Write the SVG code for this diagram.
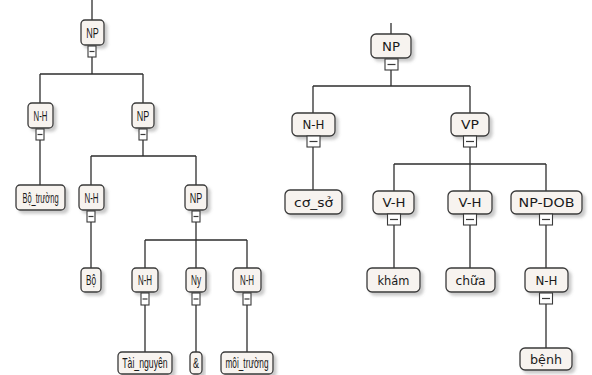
<svg xmlns="http://www.w3.org/2000/svg" width="592" height="375" viewBox="0 0 592 375">
  <defs>
    <filter id="shadow" x="-30%" y="-30%" width="160%" height="170%">
      <feDropShadow dx="3" dy="3" stdDeviation="1.4" flood-color="#8a8a8a" flood-opacity="0.45"/>
    </filter>
    <style>
      .box { fill: #f7f3ef; stroke: #3a3a3a; stroke-width: 1.3; filter: url(#shadow); }
      .tog { fill: #ffffff; stroke: #3a3a3a; stroke-width: 1.1; }
      .minus { stroke: #3a3a3a; stroke-width: 1.2; }
      .edge { fill: none; stroke: #2e2e2e; stroke-width: 1.3; }
      .narrow { font-family: "Liberation Sans", Arial, sans-serif; font-size: 15px; fill: #1a1a1a; text-anchor: middle; }
      .wide { font-family: "DejaVu Sans", Verdana, sans-serif; font-size: 12.5px; fill: #1a1a1a; text-anchor: middle; }
    </style>
  </defs>
  <rect width="592" height="375" fill="#ffffff"/>

  <!-- connectors -->
  <g id="connectors" class="edge">
    <!-- left tree -->
    <path d="M92 0V20"/>
    <path d="M92 57V74M40 74H143M40 74V103M143 74V103"/>
    <path d="M40 140V185"/>
    <path d="M143 140V156M91 156H196M91 156V185M196 156V185"/>
    <path d="M91 222V268"/>
    <path d="M196 222V240M145 240H247M145 240V268M196 240V268M247 240V268"/>
    <path d="M145 305V352M196 305V352M247 305V352"/>
    <!-- right tree -->
    <path d="M391 23V34"/>
    <path d="M391 70V86M313 86H470M313 86V113M470 86V113"/>
    <path d="M313 147V190"/>
    <path d="M470 147V164M394 164H546M394 164V191M470 164V191M546 164V191"/>
    <path d="M394 225V268M470 225V268M546 225V268"/>
    <path d="M546 304V348"/>
  </g>

  <!-- left tree nodes (condensed labels) -->
  <g id="l-np0">
    <rect class="box" x="81" y="20" width="23" height="25" rx="4"/>
    <text class="narrow" transform="translate(92.5 38) scale(0.6 1)">NP</text>
    <rect class="tog" x="88" y="46" width="8" height="11"/><line class="minus" x1="89.5" y1="51.5" x2="94.5" y2="51.5"/>
  </g>
  <g id="l-nh1">
    <rect class="box" x="28" y="103" width="25" height="25" rx="4"/>
    <text class="narrow" transform="translate(40.5 121) scale(0.52 1)">N-H</text>
    <rect class="tog" x="36" y="129" width="8" height="11"/><line class="minus" x1="37.5" y1="134.5" x2="42.5" y2="134.5"/>
  </g>
  <g id="l-np1">
    <rect class="box" x="132" y="103" width="22" height="25" rx="4"/>
    <text class="narrow" transform="translate(143 121) scale(0.6 1)">NP</text>
    <rect class="tog" x="139" y="129" width="8" height="11"/><line class="minus" x1="140.5" y1="134.5" x2="145.5" y2="134.5"/>
  </g>
  <g id="l-botruong">
    <rect class="box" x="16" y="185" width="49" height="25" rx="4"/>
    <text class="narrow" transform="translate(40.5 203) scale(0.5 1)">Bộ_trường</text>
  </g>
  <g id="l-nh2">
    <rect class="box" x="79" y="185" width="25" height="25" rx="4"/>
    <text class="narrow" transform="translate(91.5 203) scale(0.53 1)">N-H</text>
    <rect class="tog" x="87" y="211" width="8" height="11"/><line class="minus" x1="88.5" y1="216.5" x2="93.5" y2="216.5"/>
  </g>
  <g id="l-np2">
    <rect class="box" x="185" y="185" width="22" height="25" rx="4"/>
    <text class="narrow" transform="translate(196 203) scale(0.6 1)">NP</text>
    <rect class="tog" x="192" y="211" width="8" height="11"/><line class="minus" x1="193.5" y1="216.5" x2="198.5" y2="216.5"/>
  </g>
  <g id="l-bo">
    <rect class="box" x="81" y="268" width="20" height="24" rx="4"/>
    <text class="narrow" transform="translate(91 285) scale(0.55 1)">Bộ</text>
  </g>
  <g id="l-nh3">
    <rect class="box" x="132" y="268" width="26" height="24" rx="4"/>
    <text class="narrow" transform="translate(145 285) scale(0.53 1)">N-H</text>
    <rect class="tog" x="141" y="293" width="8" height="12"/><line class="minus" x1="142.5" y1="299" x2="147.5" y2="299"/>
  </g>
  <g id="l-ny">
    <rect class="box" x="186" y="268" width="20" height="24" rx="4"/>
    <text class="narrow" transform="translate(196 285) scale(0.55 1)">Ny</text>
    <rect class="tog" x="192" y="293" width="8" height="12"/><line class="minus" x1="193.5" y1="299" x2="198.5" y2="299"/>
  </g>
  <g id="l-nh4">
    <rect class="box" x="233" y="268" width="28" height="24" rx="4"/>
    <text class="narrow" transform="translate(247 285) scale(0.53 1)">N-H</text>
    <rect class="tog" x="243" y="293" width="8" height="12"/><line class="minus" x1="244.5" y1="299" x2="249.5" y2="299"/>
  </g>
  <g id="l-tainguyen">
    <rect class="box" x="118" y="352" width="54" height="22" rx="4"/>
    <text class="narrow" transform="translate(145 368) scale(0.58 1)">Tài_nguyên</text>
  </g>
  <g id="l-and">
    <rect class="box" x="190" y="352" width="12" height="22" rx="4"/>
    <text class="narrow" transform="translate(196 368) scale(0.6 1)">&amp;</text>
  </g>
  <g id="l-moitruong">
    <rect class="box" x="221" y="352" width="52" height="22" rx="4"/>
    <text class="narrow" transform="translate(247 368) scale(0.55 1)">môi_trường</text>
  </g>

  <!-- right tree nodes -->
  <g id="r-np">
    <rect class="box" x="371" y="34" width="40" height="24" rx="5"/>
    <text class="wide" x="391" y="51" textLength="18" lengthAdjust="spacingAndGlyphs">NP</text>
    <rect class="tog" x="385" y="59" width="13" height="11"/><line class="minus" x1="387.5" y1="64.5" x2="395.5" y2="64.5"/>
  </g>
  <g id="r-nh">
    <rect class="box" x="292" y="113" width="43" height="23" rx="5"/>
    <text class="wide" x="313.5" y="129" textLength="22" lengthAdjust="spacingAndGlyphs">N-H</text>
    <rect class="tog" x="307" y="136" width="13" height="11"/><line class="minus" x1="309.5" y1="141.5" x2="317.5" y2="141.5"/>
  </g>
  <g id="r-vp">
    <rect class="box" x="451" y="113" width="38" height="23" rx="5"/>
    <text class="wide" x="470" y="129" textLength="18" lengthAdjust="spacingAndGlyphs">VP</text>
    <rect class="tog" x="463.5" y="136" width="13" height="11"/><line class="minus" x1="466" y1="141.5" x2="474" y2="141.5"/>
  </g>
  <g id="r-coso">
    <rect class="box" x="285" y="190" width="57" height="24" rx="5"/>
    <text class="wide" x="313.5" y="207" textLength="39" lengthAdjust="spacingAndGlyphs">cơ_sở</text>
  </g>
  <g id="r-vh1">
    <rect class="box" x="373" y="191" width="41" height="23" rx="5"/>
    <text class="wide" x="394" y="207" textLength="23" lengthAdjust="spacingAndGlyphs">V-H</text>
    <rect class="tog" x="387.5" y="214" width="13" height="11"/><line class="minus" x1="390" y1="219.5" x2="398" y2="219.5"/>
  </g>
  <g id="r-vh2">
    <rect class="box" x="448" y="191" width="44" height="23" rx="5"/>
    <text class="wide" x="470" y="207" textLength="23" lengthAdjust="spacingAndGlyphs">V-H</text>
    <rect class="tog" x="463.5" y="214" width="13" height="11"/><line class="minus" x1="466" y1="219.5" x2="474" y2="219.5"/>
  </g>
  <g id="r-npdob">
    <rect class="box" x="511" y="191" width="71" height="23" rx="5"/>
    <text class="wide" x="546.5" y="207" textLength="56" lengthAdjust="spacingAndGlyphs">NP-DOB</text>
    <rect class="tog" x="539.5" y="214" width="13" height="11"/><line class="minus" x1="542" y1="219.5" x2="550" y2="219.5"/>
  </g>
  <g id="r-kham">
    <rect class="box" x="367" y="268" width="53" height="24" rx="5"/>
    <text class="wide" x="393.5" y="285" textLength="32" lengthAdjust="spacingAndGlyphs">khám</text>
  </g>
  <g id="r-chua">
    <rect class="box" x="446" y="268" width="49" height="24" rx="5"/>
    <text class="wide" x="470.5" y="285" textLength="30" lengthAdjust="spacingAndGlyphs">chữa</text>
  </g>
  <g id="r-nh2">
    <rect class="box" x="525" y="268" width="43" height="24" rx="5"/>
    <text class="wide" x="546.5" y="285" textLength="22" lengthAdjust="spacingAndGlyphs">N-H</text>
    <rect class="tog" x="539.5" y="293" width="13" height="11"/><line class="minus" x1="542" y1="298.5" x2="550" y2="298.5"/>
  </g>
  <g id="r-benh">
    <rect class="box" x="520" y="348" width="52" height="22" rx="5"/>
    <text class="wide" x="546" y="364" textLength="32" lengthAdjust="spacingAndGlyphs">bệnh</text>
  </g>
</svg>
